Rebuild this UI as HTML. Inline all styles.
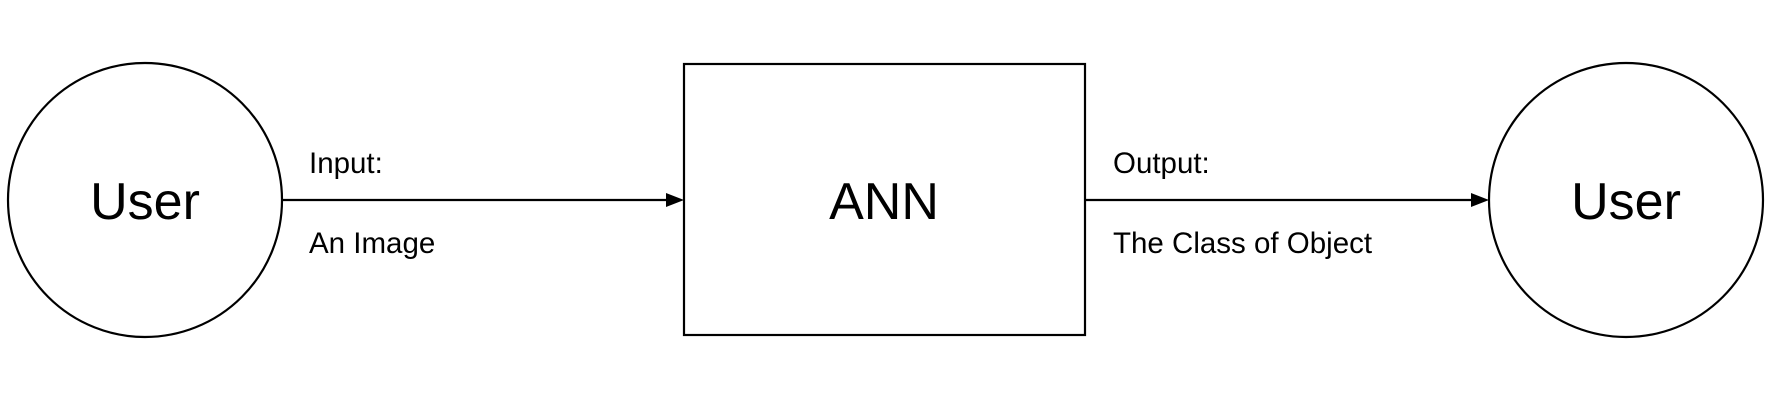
<!DOCTYPE html>
<html><head><meta charset="utf-8"><style>
html,body{margin:0;padding:0;background:#fff;}
svg{display:block;}
text{font-family:"Liberation Sans",Arial,sans-serif;fill:#000;}
</style></head><body>
<svg width="1769" height="412" viewBox="0 0 1769 412">
<g>
<circle cx="145" cy="200" r="137" fill="#fff" stroke="#000" stroke-width="2.2"/>
<text x="145" y="219" font-size="52" text-anchor="middle">User</text>
</g>
<g>
<rect x="684" y="64" width="401" height="271" fill="#fff" stroke="#000" stroke-width="2.2"/>
<text x="884" y="219" font-size="52" text-anchor="middle">ANN</text>
</g>
<g>
<circle cx="1626" cy="200" r="137" fill="#fff" stroke="#000" stroke-width="2.2"/>
<text x="1626" y="219" font-size="52" text-anchor="middle">User</text>
</g>
<g>
<line x1="283" y1="200" x2="672" y2="200" stroke="#000" stroke-width="2.2"/>
<path d="M666,193 L684,200 L666,207 z" fill="#000"/>
</g>
<g>
<line x1="1086" y1="200" x2="1477" y2="200" stroke="#000" stroke-width="2.2"/>
<path d="M1471,193 L1489,200 L1471,207 z" fill="#000"/>
</g>
<text x="309" y="173" font-size="29.5">Input:</text>
<text x="309" y="253" font-size="29.5">An Image</text>
<text x="1113" y="173" font-size="29.5">Output:</text>
<text x="1113" y="253" font-size="29.5">The Class of Object</text>
</svg>
</body></html>
